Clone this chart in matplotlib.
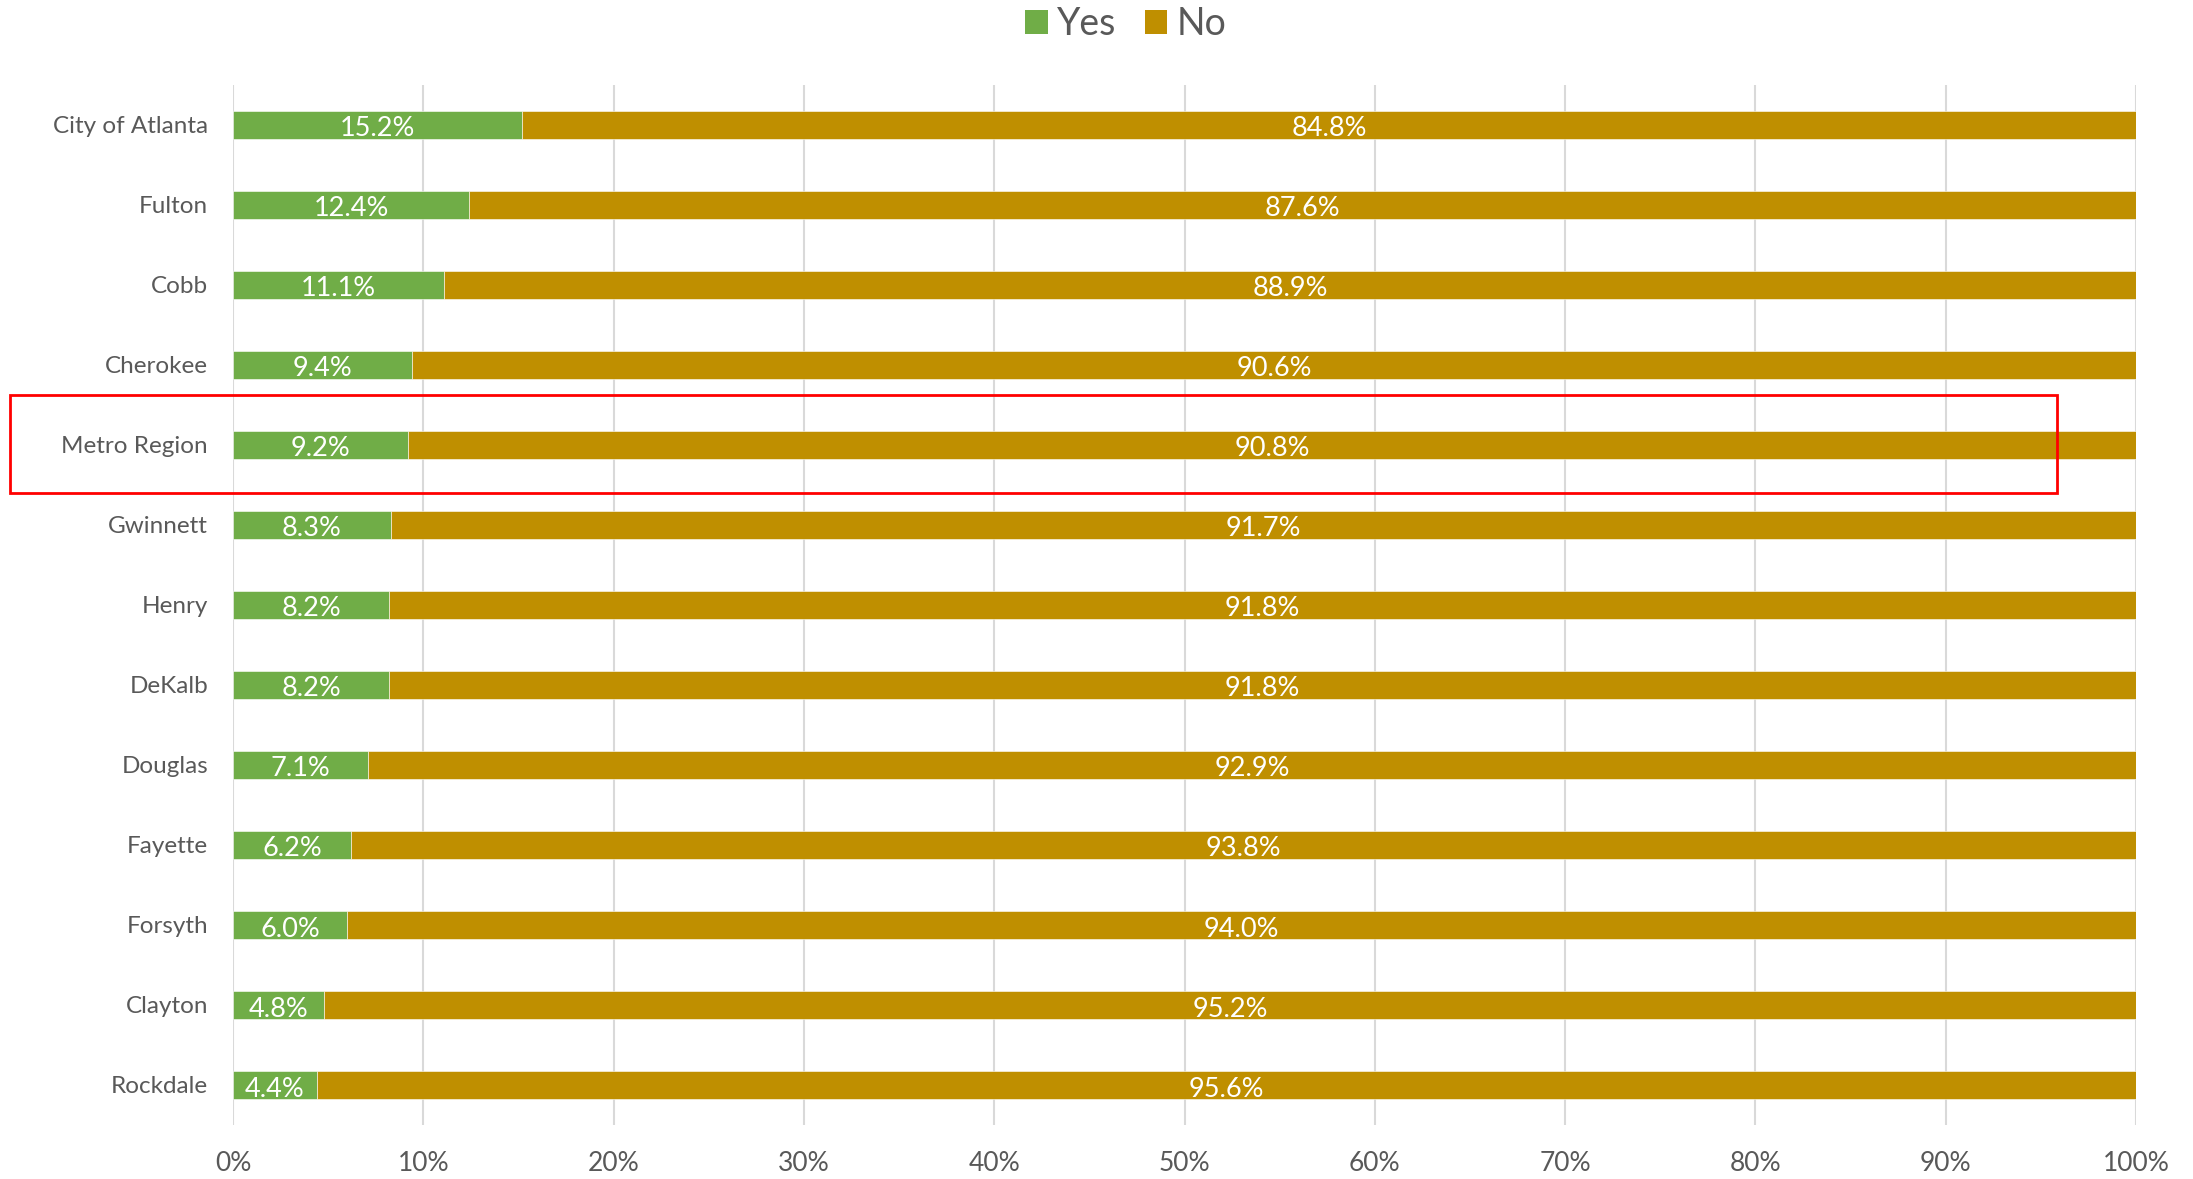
import matplotlib
matplotlib.use("Agg")
import matplotlib.pyplot as plt
from matplotlib.patches import Rectangle, Patch
import numpy as np

categories = ["City of Atlanta", "Fulton", "Cobb", "Cherokee", "Metro Region", "Gwinnett",
              "Henry", "DeKalb", "Douglas", "Fayette", "Forsyth", "Clayton", "Rockdale"]
yes_vals = [15.2, 12.4, 11.1, 9.4, 9.2, 8.3, 8.2, 8.2, 7.1, 6.2, 6.0, 4.8, 4.4]
no_vals = [84.8, 87.6, 88.9, 90.6, 90.8, 91.7, 91.8, 91.8, 92.9, 93.8, 94.0, 95.2, 95.6]
xticks = [0, 10, 20, 30, 40, 50, 60, 70, 80, 90, 100]
xtick_labels = [f"{t}%" for t in xticks]
highlight = "Metro Region"

GREEN = "#70AD47"
GOLD = "#BF8F00"
TEXT = "#595959"
GRID = "#D9D9D9"

plt.rcParams['font.family'] = ['Lato', 'DejaVu Sans']

fig = plt.figure(figsize=(21.93, 11.79), dpi=100)
ax = fig.add_axes([233/2193, 1-1125/1179, (2136-233)/2193, (1125-84.5)/1179])

y = np.arange(len(categories))
h = 0.35
ax.barh(y, yes_vals, height=h, color=GREEN, edgecolor="white", linewidth=0.4, zorder=3, label="Yes")
ax.barh(y, no_vals, left=yes_vals, height=h, color=GOLD, edgecolor="white", linewidth=0.4, zorder=3, label="No")

for i, (a, b) in enumerate(zip(yes_vals, no_vals)):
    ax.text(a/2, i + 0.02, f"{a:.1f}%", ha="center", va="center_baseline", color="white", fontsize=19.5, zorder=4)
    ax.text(a + b/2, i + 0.02, f"{b:.1f}%", ha="center", va="center_baseline", color="white", fontsize=19.5, zorder=4)

ax.set_xlim(0, 100)
ax.set_ylim(len(categories) - 0.5, -0.5)
ax.set_yticks(y)
ax.set_yticklabels(categories)
ax.set_xticks(xticks)
ax.set_xticklabels(xtick_labels)
ax.tick_params(axis="y", length=0, pad=18, labelsize=17.5, labelcolor=TEXT)
ax.tick_params(axis="x", length=0, pad=19, labelsize=19, labelcolor=TEXT)
for s in ax.spines.values():
    s.set_visible(False)
ax.grid(axis="x", color=GRID, linewidth=1.5, zorder=0)
ax.set_axisbelow(True)

# highlight box around Metro Region
hi = categories.index(highlight)
rect = Rectangle((-11.7, hi - 0.62), 95.85 + 11.7, 1.22, fill=False, edgecolor="#FF0000",
                 linewidth=2, clip_on=False, zorder=5)
ax.add_patch(rect)

handles = [Patch(facecolor=GREEN, label="Yes"), Patch(facecolor=GOLD, label="No")]
fig.legend(handles=handles, loc="center", bbox_to_anchor=(1126/2193, 1-24/1179), ncol=2,
           frameon=False, fontsize=27, handlelength=0.6, handleheight=0.6,
           handletextpad=0.25, columnspacing=0.75, labelcolor=TEXT)

fig.savefig("out.png", dpi=100)
